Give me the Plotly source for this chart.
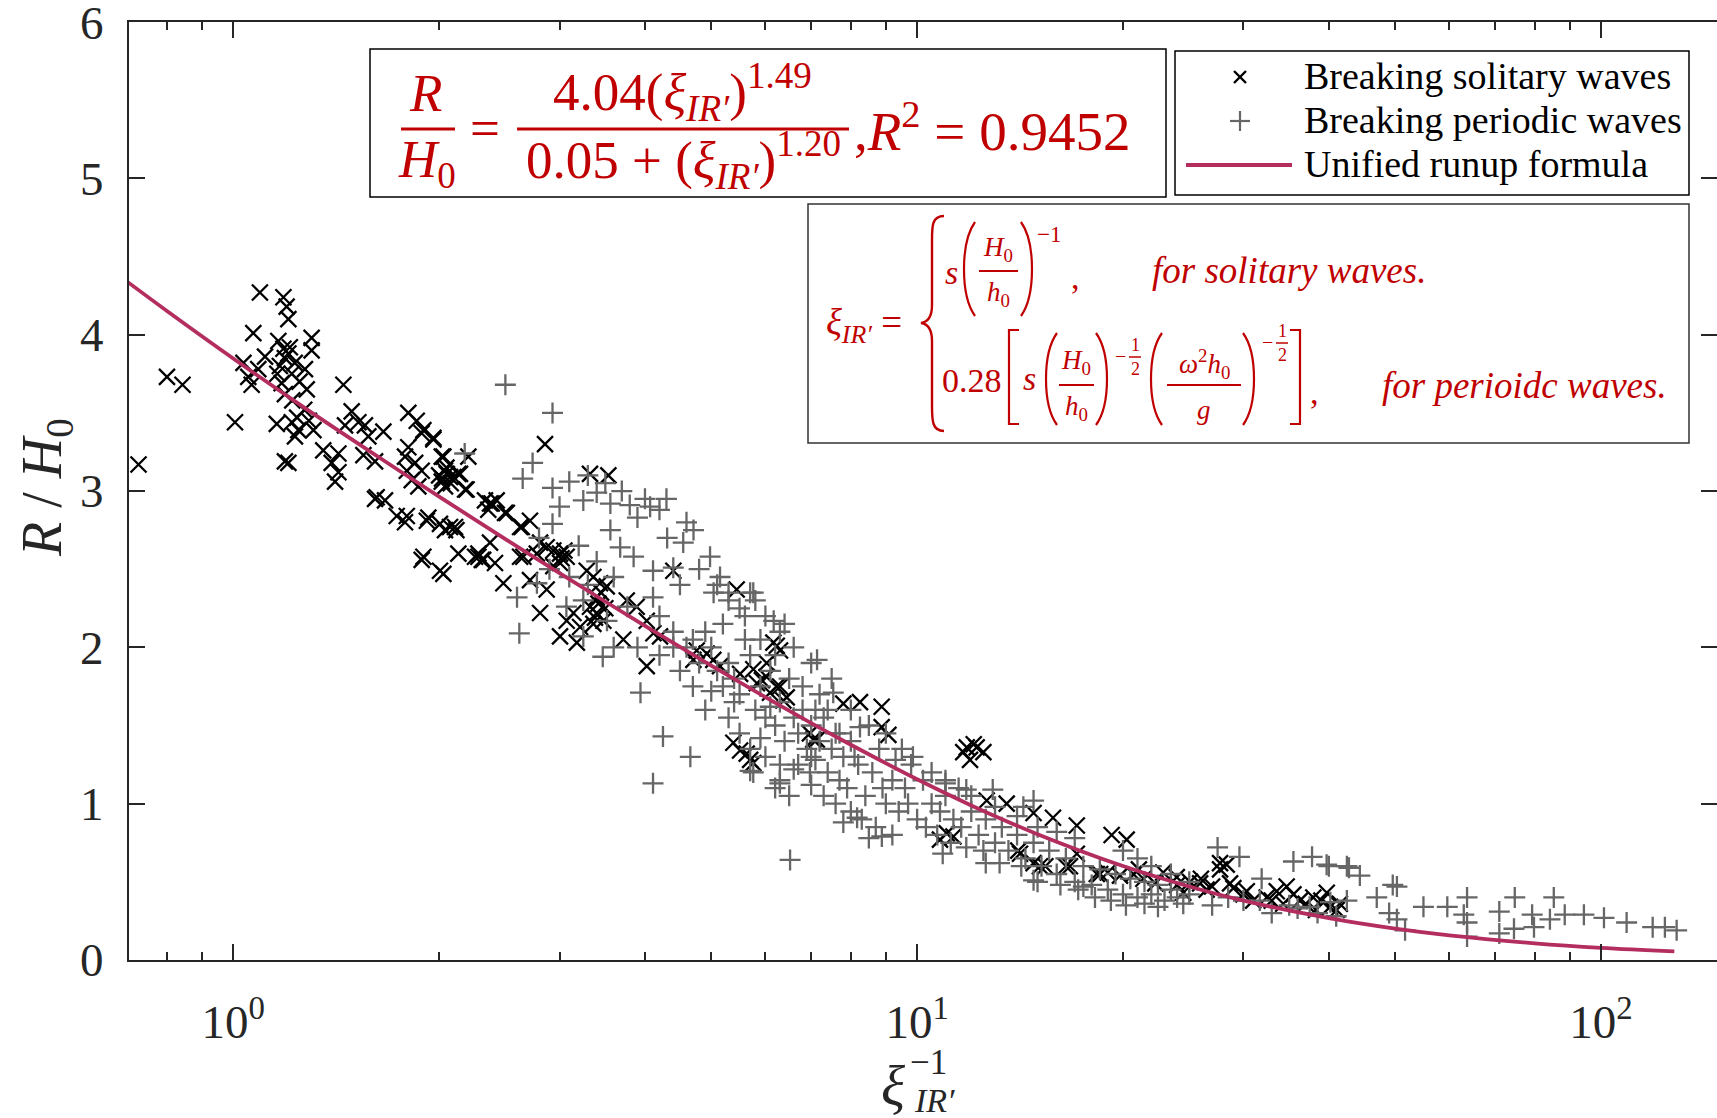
import plotly.graph_objects as go

# ---------------- data ----------------
sol_x = [0.727, 0.80, 0.843, 1.006,
         1.094, 1.184, 1.197, 1.204, 1.07, 1.302, 1.164, 1.302, 1.184, 1.204, 1.113, 1.035, 1.273, 1.088, 1.052, 1.218,
         1.064, 1.177, 1.281, 1.19, 1.158, 1.218, 1.245, 1.31, 1.231, 1.354, 1.425, 1.19, 1.204, 1.393, 1.425, 1.409,
         1.449, 1.49, 1.524, 1.558, 1.457, 1.658, 1.576, 1.55, 1.612, 1.621, 1.667, 1.734, 1.803, 1.855, 1.886, 1.962,
         1.803, 1.783, 1.845, 1.794, 1.886, 1.824, 1.865, 2.018, 2.04, 2.075, 2.018, 2.134, 2.207, 2.183, 2.04, 1.612,
         1.794, 1.783, 1.929, 2.006, 2.11, 2.04, 1.886, 2.006, 2.029, 2.134, 2.334, 2.388, 2.497, 2.36, 2.283, 2.309,
         2.414, 2.483, 2.627, 2.642, 2.257,
         1.17, 1.21, 1.19, 1.23, 1.16, 1.25, 1.22, 1.27, 1.24, 1.29, 2.02, 2.05, 2.08, 2.0,
         2.857, 3.324, 3.536, 1.897, 1.962, 2.029, 2.052, 2.099, 2.146, 2.194, 1.919, 2.075, 2.12, 1.897, 2.283, 2.32,
         2.374, 2.428, 2.512, 2.374, 2.716, 2.627, 2.656, 2.81, 2.873, 2.938, 3.005, 3.073, 3.005, 2.938, 2.779, 2.716,
         2.873, 2.81, 3.005, 3.18, 3.073, 3.144, 3.215, 3.288, 3.362, 3.438, 3.517, 3.4, 3.324, 3.4, 3.477, 3.362,
         3.719, 3.762, 3.89, 4.024, 4.115, 4.208, 4.024, 4.401, 5.447, 4.761, 4.925, 5.035, 6.163, 6.303, 5.761, 6.026,
         6.234, 6.447, 6.094, 7.05, 5.386, 5.634, 5.761, 5.51, 4.708, 5.15, 5.51, 5.83,
         3.05, 3.02, 3.45, 3.42, 3.5, 3.38,
         6.234, 7.8, 8.25, 8.875, 8.875, 9.078, 7.134, 5.7, 11.82, 12.22, 12.5, 11.95, 11.68, 12.1, 12.64, 13.52,
         14.8, 15.8, 17.12, 11.05, 11.3, 10.8, 14.8, 15.12, 16.73, 17.12, 18.31, 14.14, 6.97, 6.026, 5.93, 6.303, 6.374,
         19.25, 20.25, 14.06, 15.4, 16.5, 18.52, 19.0, 19.8, 20.71, 21.42, 22.9, 23.97, 25.06, 25.93, 27.73, 27.73,
         28.36, 28.68, 30.34, 32.45, 33.56, 34.7, 36.29, 37.96, 39.72, 40.16, 41.07, 26.5, 24.5, 31.0, 34.3, 38.3,
         21.1, 22.3, 35.5, 37.0, 39.0, 41.5, 33.0, 30.0, 29.0, 27.0, 26.0, 24.0]
sol_y = [3.17, 3.73, 3.68, 3.44,
         4.27, 4.24, 4.18, 4.10, 4.01, 3.98, 3.96, 3.90, 3.91, 3.88, 3.86, 3.82, 3.78, 3.78, 3.73, 3.75,
         3.68, 3.69, 3.65, 3.62, 3.43, 3.44, 3.39, 3.39, 3.35, 3.26, 3.24, 3.19, 3.18, 3.18, 3.12, 3.06,
         3.68, 3.51, 3.44, 3.42, 3.42, 3.38, 3.35, 3.23, 3.19, 2.96, 2.94, 2.84, 3.50, 3.45, 3.37, 3.34,
         3.28, 3.22, 3.18, 3.13, 3.13, 3.07, 3.03, 3.22, 3.13, 3.09, 3.06, 3.11, 3.22, 3.01, 3.03, 2.95,
         2.84, 2.80, 2.83, 2.79, 2.77, 2.75, 2.56, 2.49, 2.47, 2.60, 2.94, 2.92, 2.86, 2.88, 2.60, 2.56,
         2.54, 2.41, 2.58, 2.77, 2.58,
         3.80, 3.92, 3.85, 3.82, 3.75, 3.70, 3.58, 3.52, 3.47, 3.45, 3.08, 3.15, 3.05, 3.10,
         3.30, 3.11, 3.10, 3.39, 3.33, 3.22, 3.11, 3.09, 3.11, 3.01, 2.81, 2.77, 2.75, 2.58, 2.58, 2.56,
         2.92, 2.94, 2.86, 2.67, 2.81, 2.77, 2.58, 2.67, 2.64, 2.62, 2.60, 2.58, 2.54, 2.52, 2.60, 2.43,
         2.37, 2.22, 2.07, 2.03, 2.17, 2.22, 2.13, 2.49, 2.45, 2.41, 2.39, 2.32, 2.26, 2.22, 2.17, 2.15,
         2.05, 2.30, 2.26, 2.17, 2.09, 2.07, 1.88, 2.49, 2.37, 1.98, 1.96, 1.92, 2.03, 1.98, 1.86, 1.81,
         1.75, 1.68, 1.71, 1.41, 1.39, 1.32, 1.26, 1.34, 1.92, 1.88, 1.83, 1.77,
         2.62, 2.57, 2.35, 2.28, 2.25, 2.19,
         2.01, 1.64, 1.65, 1.62, 1.49, 1.44, 1.41, 1.28, 1.36, 1.36, 1.33, 1.28, 1.33, 1.38, 1.02, 1.00,
         0.94, 0.91, 0.86, 0.81, 0.79, 0.77, 0.62, 0.60, 0.60, 0.68, 0.55, 0.68, 1.45, 1.90, 1.79, 1.75, 1.66,
         0.80, 0.77, 0.70, 0.60, 0.60, 0.55, 0.56, 0.54, 0.55, 0.52, 0.56, 0.53, 0.50, 0.49, 0.62, 0.58,
         0.61, 0.49, 0.44, 0.40, 0.44, 0.47, 0.38, 0.40, 0.43, 0.34, 0.32, 0.45, 0.43, 0.38, 0.36, 0.32,
         0.58, 0.49, 0.42, 0.36, 0.38, 0.36, 0.38, 0.42, 0.46, 0.47, 0.52, 0.48]

per_x = [2.18, 2.5, 2.93, 2.74, 2.65, 2.93, 3.10, 3.40, 3.25, 3.56, 3.80, 4.07, 4.20, 3.90, 2.93, 3.56, 4.31, 4.55,
         4.71, 3.68, 3.85, 4.11, 4.40, 4.98, 5.15, 5.70, 6.17, 5.04, 4.11, 3.77, 3.52, 3.25, 3.07, 2.78, 2.60, 2.62,
         3.25, 3.47, 3.94, 4.25, 4.66, 4.11, 6.30, 5.70,
         3.3, 3.5, 3.7, 4.0, 4.3, 4.6, 3.0, 2.8, 3.2, 3.4, 4.8, 5.3, 3.6, 3.3, 2.9, 3.1, 4.5, 4.2, 3.9, 4.4, 4.7, 3.6,
         5.0, 5.1, 5.2, 5.3, 5.4, 5.5, 5.6, 5.7, 5.8, 5.9, 6.0, 6.1, 6.2, 6.3, 6.4, 6.5, 6.6, 6.7, 6.8, 6.9, 7.0, 7.1,
         7.2, 7.3, 7.4, 7.5, 7.6, 7.7, 7.8, 7.9, 8.0, 8.2, 8.4, 8.6, 8.8, 9.0, 9.2, 9.4, 9.6, 9.8, 10.0,
         5.2, 5.5, 5.8, 6.0, 6.3, 6.6, 7.0, 7.5, 8.0, 8.5, 9.0, 9.5, 6.2, 6.8, 7.2,
         5.3, 5.5, 5.7, 6.0, 6.3, 6.6, 7.0, 7.3, 7.6, 8.0, 8.3, 8.7, 9.2, 8.5, 7.8, 7.0, 7.4, 6.1, 5.9, 5.4, 4.8, 4.6,
         4.7, 4.9, 4.5, 4.4, 4.2, 4.9, 5.1, 5.3, 5.6, 5.9, 6.4, 5.0, 6.7, 7.1, 7.7, 8.1, 8.9, 9.3, 9.7, 6.2, 6.5,
         5.76, 7.14, 7.54, 8.25, 9.86, 11.0, 11.8, 12.9, 14.3, 14.8, 6.52, 8.88, 8.17, 10.9, 12.6, 14.8, 17.5, 6.3,
         5.76, 6.97,
         10.2, 10.5, 10.8, 11.0, 11.3, 11.6, 12.0, 12.3, 12.6, 13.0, 13.3, 13.6, 14.0, 14.4, 14.8, 15.2, 15.6, 16.0,
         16.5, 17.0, 17.5, 18.0, 18.5, 19.0, 19.5, 20.0, 20.5, 21.0, 21.5, 22.0, 22.5, 23.0, 23.5, 24.0, 24.5, 25.0,
         10.3, 10.7, 11.2, 11.8, 12.5, 13.2, 14.2, 15.0, 16.2, 17.2, 18.2, 19.2, 20.2, 21.5, 22.5,
         10.5, 11.0, 11.5, 12.0, 13.0, 14.0, 15.0, 16.0, 17.0, 20.0, 21.0, 22.0, 23.5, 25.0,
         27.5, 29.6, 35.5, 37.8, 40.0, 42.5, 44.4, 42.5, 47.0, 49.6, 31.9, 31.7, 35.0, 37.5, 40.2, 39.7, 42.8, 50.3,
         49.0, 50.3, 51.7, 55.0, 59.6, 63.7, 63.0, 63.7, 63.7, 71.0, 71.0, 74.8, 74.6, 79.3, 79.8, 84.2, 85.3, 88.5,
         94.4, 101.0, 109.0, 119.0, 124.0, 129.0, 27.0, 30.0, 33.0, 36.0, 38.5, 41.0, 28.5]
per_y = [3.24, 3.68, 3.50, 3.18, 3.08, 3.02, 3.06, 2.99, 2.94, 2.92, 2.91, 2.90, 2.88, 2.83, 2.79, 2.75, 2.70, 2.67,
         2.75, 2.64, 2.58, 2.49, 2.51, 2.58, 2.45, 2.35, 2.17, 2.35, 2.32, 2.26, 2.17, 2.30, 2.26, 2.41, 2.32, 2.09,
         2.07, 1.94, 1.71, 1.43, 1.30, 1.13, 1.13, 1.21,
         3.10, 3.05, 3.00, 2.95, 2.95, 2.80, 2.90, 2.70, 2.65, 2.55, 2.50, 2.30, 2.45, 2.40, 2.50, 2.45, 2.40, 2.20,
         2.00, 2.10, 2.05, 2.00,
         2.00, 1.85, 1.75, 1.90, 1.80, 1.70, 2.05, 1.95, 1.60, 1.75, 1.55, 1.85, 1.50, 1.65, 1.40, 1.80, 1.55, 1.45,
         1.60, 1.35, 1.50, 1.28, 1.40, 1.55, 1.20, 1.35, 1.45, 1.15, 1.30, 1.10, 1.40, 1.25, 1.05, 1.20, 1.35, 1.00,
         1.15, 0.95, 1.10, 1.25, 0.90,
         2.15, 2.25, 2.30, 2.20, 2.10, 2.00, 1.90, 1.80, 1.60, 1.50, 1.45, 1.35, 1.95, 1.75, 1.70,
         1.55, 1.45, 1.35, 1.30, 1.25, 1.22, 1.12, 1.05, 1.00, 0.95, 0.90, 0.85, 0.80, 0.78, 0.88, 1.30, 1.60, 1.62,
         1.42, 1.65, 1.90, 2.00, 1.75, 1.60, 1.85, 2.00, 1.95, 2.10, 2.40, 2.35, 2.20, 2.05, 2.15, 1.72, 1.25, 1.60,
         1.45, 1.30, 1.10, 1.28, 1.00, 1.10, 1.05,
         2.35, 1.92, 1.71, 1.49, 1.30, 1.13, 1.09, 1.09, 0.98, 1.02, 0.64, 0.79, 0.91, 0.68, 0.62, 0.51, 0.47, 1.15,
         1.20, 1.20,
         1.15, 1.00, 0.95, 1.05, 0.90, 0.85, 0.95, 0.80, 0.90, 0.75, 0.85, 0.70, 0.80, 0.65, 0.75, 0.60, 0.70, 0.55,
         0.65, 0.50, 0.60, 0.48, 0.58, 0.45, 0.55, 0.42, 0.52, 0.40, 0.50, 0.42, 0.48, 0.38, 0.45, 0.40, 0.36, 0.42,
         0.85, 0.80, 0.75, 0.72, 0.70, 0.62, 0.60, 0.50, 0.48, 0.45, 0.40, 0.38, 0.35, 0.36, 0.34,
         1.20, 1.15, 1.10, 1.05, 0.98, 0.92, 0.85, 0.82, 0.78, 0.70, 0.65, 0.60, 0.55, 0.50,
         0.72, 0.66, 0.63, 0.66, 0.60, 0.60, 0.54, 0.38, 0.40, 0.48, 0.52, 0.38, 0.35, 0.34, 0.37, 0.61, 0.59, 0.47,
         0.30, 0.26, 0.19, 0.34, 0.34, 0.40, 0.29, 0.24, 0.15, 0.31, 0.17, 0.40, 0.20, 0.29, 0.21, 0.26, 0.40, 0.29,
         0.29, 0.27, 0.24, 0.21, 0.21, 0.19, 0.35, 0.38, 0.30, 0.33, 0.30, 0.28, 0.40]

curve_x = [0.7, 0.8, 1.0, 1.25, 1.5, 2.0, 2.5, 3.0, 4.0, 5.0, 6.0, 7.0, 8.0, 10.0, 12.0, 15.0, 20.0, 25.0, 30.0,
           40.0, 50.0, 60.0, 80.0, 100.0, 128.0]
curve_y = [4.339, 4.152, 3.848, 3.554, 3.322, 2.964, 2.693, 2.475, 2.137, 1.883, 1.681, 1.515, 1.377, 1.156, 0.989,
           0.805, 0.601, 0.470, 0.380, 0.268, 0.201, 0.158, 0.107, 0.078, 0.055]

y_ticks = [0, 1, 2, 3, 4, 5, 6]
x_major = [1, 10, 100]
x_major_labels = ["10<sup>0</sup>", "10<sup>1</sup>", "10<sup>2</sup>"]
x_minor = [0.8, 0.9, 2, 3, 4, 5, 6, 7, 8, 9, 20, 30, 40, 50, 60, 70, 80, 90]

series_names = ["Breaking solitary waves", "Breaking periodic waves", "Unified runup formula"]

# ---------------- style ----------------
W, H = 1717, 1118
SERIF = "Liberation Serif"
RED = "#C00000"
AX = "#262626"
GREY = "#666666"
CURVE = "rgb(180,45,95)"


def X(p):
    return p / W


def Y(p):
    return 1 - p / H


shapes = []
annotations = []


def line(x0, y0, x1, y1, color, width):
    shapes.append(dict(type="line", xref="paper", yref="paper", x0=X(x0), y0=Y(y0), x1=X(x1), y1=Y(y1),
                       line=dict(color=color, width=width)))


def rect(x0, y0, x1, y1, color="black", width=1.5):
    shapes.append(dict(type="rect", xref="paper", yref="paper", x0=X(x0), y0=Y(y0), x1=X(x1), y1=Y(y1),
                       line=dict(color=color, width=width), fillcolor="white", layer="above"))


def path(cmds, color=RED, width=2.2):
    parts = []
    for c, pts in cmds:
        coords = " ".join("%.5f,%.5f" % (X(a), Y(b)) for a, b in pts)
        parts.append(c + coords)
    shapes.append(dict(type="path", xref="paper", yref="paper", path=" ".join(parts),
                       line=dict(color=color, width=width)))


def paren(xl, xr, top, bot, left=True, color=RED, width=2.2):
    h = bot - top
    if left:
        cx = xr - (xr - xl) / 0.75
        path([("M", [(xr, top)]), ("C", [(cx, top + 0.22 * h), (cx, bot - 0.22 * h), (xr, bot)])], color, width)
    else:
        cx = xl + (xr - xl) / 0.75
        path([("M", [(xl, top)]), ("C", [(cx, top + 0.22 * h), (cx, bot - 0.22 * h), (xl, bot)])], color, width)


def bracket(x_out, x_in, top, bot, color=RED, width=2.2):
    path([("M", [(x_in, top)]), ("L", [(x_out, top)]), ("L", [(x_out, bot)]), ("L", [(x_in, bot)])],
         color, width)


def text(x, y, s, size, color=RED, anchor="center", angle=0):
    annotations.append(dict(xref="paper", yref="paper", x=X(x), y=Y(y), text=s, showarrow=False,
                            font=dict(family=SERIF, size=size, color=color), xanchor=anchor,
                            yanchor="middle", textangle=angle))


# ---------------- traces ----------------
fig = go.Figure()
fig.add_trace(go.Scatter(x=sol_x, y=sol_y, mode="markers", name=series_names[0],
                         marker=dict(symbol="x-thin", size=16, color="black",
                                     line=dict(width=2.3, color="black"))))
fig.add_trace(go.Scatter(x=per_x, y=per_y, mode="markers", name=series_names[1],
                         marker=dict(symbol="cross-thin", size=15, color=GREY,
                                     line=dict(width=2.3, color=GREY))))
fig.add_trace(go.Scatter(x=curve_x, y=curve_y, mode="lines", name=series_names[2], yaxis="y2",
                         line=dict(color=CURVE, width=3.8, shape="spline")))

# ---------------- formula box 1 ----------------
rect(370, 49, 1166, 197)
F1 = 53
text(425, 93, "<i>R</i>", F1)
line(401, 129, 455, 129, RED, 3)
text(427, 163, "<i>H</i><sub>0</sub>", F1)
text(485, 128, "=", F1)
text(682, 92, "4.04(<i>ξ</i><sub><i>IR′</i></sub>)<sup>1.49</sup>", F1)
line(517, 129, 849, 129, RED, 3)
text(683, 160, "0.05 + (<i>ξ</i><sub><i>IR′</i></sub>)<sup>1.20</sup>", F1)
text(852, 127, ",<i>R</i><sup>2</sup> = 0.9452", 55, anchor="left")

# ---------------- legend ----------------
rect(1175, 51, 1689, 195)
LF = 38
line(1234, 71, 1246, 83, "black", 2.4)
line(1234, 83, 1246, 71, "black", 2.4)
line(1230, 121, 1250, 121, GREY, 2.2)
line(1240, 111, 1240, 131, GREY, 2.2)
line(1186, 165, 1292, 165, CURVE, 3.8)
text(1302, 76, series_names[0], LF, color="black", anchor="left")
text(1302, 120, series_names[1], LF, color="black", anchor="left")
text(1302, 164, series_names[2], LF, color="black", anchor="left")

# ---------------- formula box 2 ----------------
rect(808, 204, 1689, 443, color="#333333")
F2 = 34
FT = 37
FS = 27
text(824, 325, "<i>ξ</i><sub><i>IR′</i></sub> =", 37, anchor="left")
path([("M", [(944, 216)]), ("C", [(932, 216), (932, 226), (932, 240)]), ("L", [(932, 305)]),
      ("C", [(932, 317), (928, 322), (921, 323)]), ("C", [(928, 324), (932, 329), (932, 341)]),
      ("L", [(932, 406)]), ("C", [(932, 420), (932, 431), (944, 431)])], RED, 2.4)
# row 1
text(951, 272, "<i>s</i>", F2)
paren(964, 975, 222, 316, left=True)
text(998, 249, "<i>H</i><sub>0</sub>", FS)
line(979, 271, 1018, 271, RED, 2)
text(998, 294, "<i>h</i><sub>0</sub>", FS)
paren(1021, 1032, 222, 316, left=False)
text(1049, 234, "−1", 23)
text(1075, 277, ",", F2)
text(1150, 270, "<i>for solitary waves.</i>", FT, anchor="left")
# row 2
text(972, 381, "0.28", F2)
bracket(1009, 1019, 330, 424)
text(1029, 378, "<i>s</i>", F2)
paren(1046, 1057, 333, 425, left=True)
text(1076, 362, "<i>H</i><sub>0</sub>", FS)
line(1059, 385, 1094, 385, RED, 2)
text(1076, 408, "<i>h</i><sub>0</sub>", FS)
paren(1096, 1107, 333, 425, left=False)
text(1120, 356, "−", 20)
text(1135, 345, "1", 18)
line(1129, 357, 1141, 357, RED, 1.5)
text(1135, 369, "2", 18)
paren(1151, 1162, 333, 425, left=True)
text(1204, 364, "<i>ω</i><sup>2</sup><i>h</i><sub>0</sub>", FS)
line(1167, 385, 1241, 385, RED, 2)
text(1204, 410, "<i>g</i>", FS)
paren(1243, 1254, 333, 425, left=False)
text(1267, 342, "−", 20)
text(1282, 331, "1", 18)
line(1276, 343, 1288, 343, RED, 1.5)
text(1282, 355, "2", 18)
bracket(1300, 1290, 330, 424)
text(1314, 392, ",", F2)
text(1380, 386, "<i>for perioidc waves.</i>", FT, anchor="left")

# ---------------- axis titles ----------------
text(46, 488, "<i>R</i> / <i>H</i><sub>0</sub>", 56, color=AX, angle=-90)
text(893, 1086, "<i>ξ</i>", 56, color=AX)
text(928, 1062, "−1", 35, color=AX)
text(934, 1100, "<i>IR′</i>", 34, color=AX)

tickfont = dict(family=SERIF, size=47, color=AX)
fig.update_layout(
    width=W, height=H, margin=dict(l=0, r=0, t=0, b=0),
    paper_bgcolor="white", plot_bgcolor="white", showlegend=False,
    xaxis=dict(type="log", domain=[129 / W, 1], range=[-0.1524, 2.1696],
               tickmode="array", tickvals=x_major, ticktext=x_major_labels,
               ticks="inside", ticklen=16, tickwidth=2, tickcolor=AX,
               showline=True, linecolor=AX, linewidth=2, mirror="ticks",
               showgrid=False, zeroline=False, tickfont=tickfont, automargin=False,
               ticklabelstandoff=20, ticklabeloverflow="allow",
               minor=dict(tickmode="array", tickvals=x_minor, ticks="inside", ticklen=8,
                          tickwidth=2, tickcolor=AX, showgrid=False)),
    yaxis=dict(domain=[1 - 960 / H, 1 - 22 / H], range=[0, 6.0005], tickmode="array", tickvals=y_ticks,
               ticks="inside", ticklen=16, tickwidth=2, tickcolor=AX,
               showline=True, linecolor=AX, linewidth=2, mirror=False,
               showgrid=False, zeroline=False, tickfont=tickfont, automargin=False,
               ticklabelstandoff=14, ticklabeloverflow="allow"),
    yaxis2=dict(overlaying="y", side="right", range=[0, 6.0005], tickmode="array", tickvals=y_ticks,
                ticks="inside", ticklen=16, tickwidth=2, tickcolor=AX, showline=False,
                showgrid=False, zeroline=False, showticklabels=False),
    shapes=shapes, annotations=annotations,
)

fig.write_html("out.html")
